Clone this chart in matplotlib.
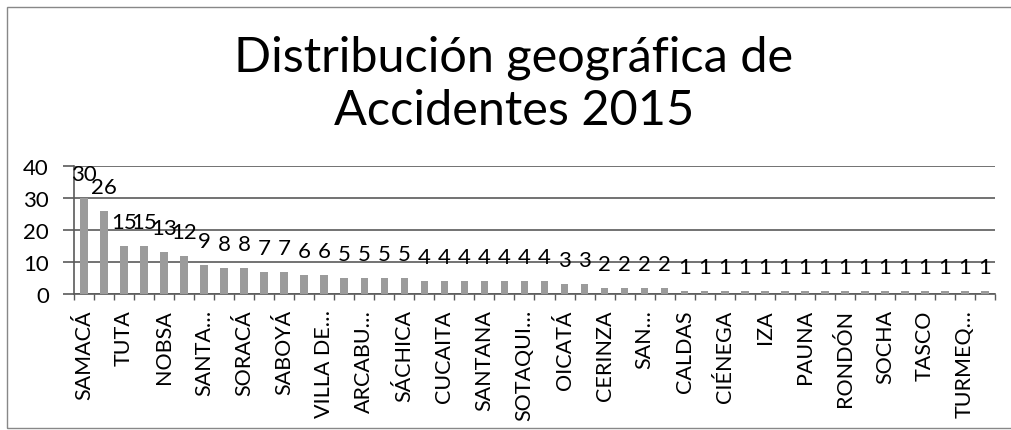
import numpy as np
import matplotlib.pyplot as plt
from matplotlib.patches import Rectangle

plt.rcParams['font.family'] = ['Lato', 'DejaVu Sans']

# DATOS
# solo se leen los nombres visibles (uno de cada dos municipios)
municipios = ['SAMACÁ', 'TUTA', 'NOBSA', 'SANTA…', 'SORACÁ', 'SABOYÁ',
              'VILLA DE…', 'ARCABU…', 'SÁCHICA', 'CUCAITA', 'SANTANA',
              'SOTAQUI…', 'OICATÁ', 'CERINZA', 'SAN…', 'CALDAS', 'CIÉNEGA',
              'IZA', 'PAUNA', 'RONDÓN', 'SOCHA', 'TASCO', 'TURMEQ…']
accidentes = [30, 26, 15, 15, 13, 12, 9, 8, 8, 7, 7, 6, 6,
              5, 5, 5, 5, 4, 4, 4, 4, 4, 4, 4, 3, 3, 2, 2, 2, 2,
              1, 1, 1, 1, 1, 1, 1, 1, 1, 1, 1, 1, 1, 1, 1, 1]
y_ticks = [0, 10, 20, 30, 40]
titulo = ['Distribución geográfica de', 'Accidentes 2015']

gris = '#5a5a5a'
n = len(accidentes)
xi = np.arange(n)

# GRAFICA
fig = plt.figure(figsize=(10.12, 4.31), dpi=100)
ax = fig.add_axes([74/1012, 136/431, 921/1012, 128/431])

ax.bar(xi, accidentes, width=0.38, color='#9b9b9b', zorder=3)
for i, v in enumerate(accidentes):
    ax.annotate(str(v), (i, v), xytext=(0, 13), textcoords='offset points',
                ha='center', va='baseline', fontsize=16)

ax.set_xlim(-0.5, n - 0.5)
ax.set_ylim(0, 40)
ax.set_yticks(y_ticks)
ax.yaxis.grid(True, color=gris, lw=1.2)
ax.set_axisbelow(True)
ax.tick_params(axis='y', length=8, width=1.2, color=gris, pad=10, labelsize=16)

ax.set_xticks(xi[::2])
ax.set_xticklabels(municipios, rotation=90, fontsize=15.5)
ax.set_xticks(np.arange(-0.5, n, 1), minor=True)
ax.tick_params(axis='x', which='major', length=0, pad=11)
ax.tick_params(axis='x', which='minor', length=4, width=1, color=gris)

for lado in ['top', 'right']:
    ax.spines[lado].set_visible(False)
for lado in ['left', 'bottom']:
    ax.spines[lado].set_color(gris)
    ax.spines[lado].set_linewidth(1.2)

# titulo en dos lineas
fig.text(514/1012, (431-72)/431, titulo[0], ha='center', va='baseline', fontsize=35)
fig.text(514/1012, (431-125)/431, titulo[1], ha='center', va='baseline', fontsize=35)

# marco exterior
fig.add_artist(Rectangle((7/1012, 2/431), 1.0, 421/431, transform=fig.transFigure,
                         fill=False, edgecolor='#888888', lw=1))

fig.savefig('out.png', dpi=100)
